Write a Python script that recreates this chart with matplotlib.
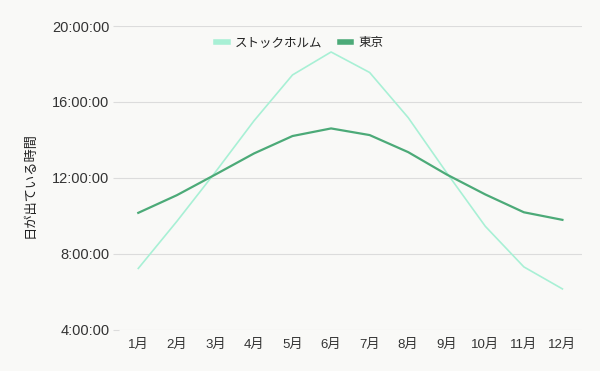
import matplotlib
matplotlib.use("Agg")
import matplotlib.pyplot as plt
from matplotlib.ticker import FuncFormatter, FixedLocator

plt.rcParams["font.family"] = ["Liberation Sans", "Noto Sans CJK JP", "DejaVu Sans"]

# データ（時間単位）
meses = ["1月", "2月", "3月", "4月", "5月", "6月", "7月", "8月", "9月", "10月", "11月", "12月"]
estocolmo = [7.22, 9.70, 12.30, 15.00, 17.42, 18.63, 17.55, 15.17, 12.26, 9.44, 7.30, 6.14]
toquio = [10.15, 11.08, 12.17, 13.28, 14.20, 14.60, 14.25, 13.35, 12.17, 11.12, 10.18, 9.78]
ticks_y = [4, 8, 12, 16, 20]

fundo = "#f9f9f7"
fig = plt.figure(figsize=(6, 3.71), dpi=100, facecolor=fundo)
ax = fig.add_axes([119 / 600, 41.5 / 371, 462.7 / 600, 303.5 / 371], facecolor=fundo)

x = list(range(len(meses)))
ax.plot(x, estocolmo, color="#a8f0d5", lw=1.2, label="ストックホルム")
ax.plot(x, toquio, color="#4caa78", lw=1.6, label="東京")

ax.set_xlim(-0.5, len(meses) - 0.5)
ax.set_ylim(4, 20)
ax.yaxis.set_major_locator(FixedLocator(ticks_y))
ax.yaxis.set_major_formatter(FuncFormatter(lambda v, p: f"{int(v)}:00:00"))
ax.set_xticks(x)
ax.set_xticklabels(meses)

ax.grid(axis="y", color="#dcdcdc", lw=0.8)
ax.set_axisbelow(True)
for s in ax.spines.values():
    s.set_visible(False)
ax.tick_params(axis="x", length=0, pad=7, labelsize=9.5, colors="#333333")
ax.tick_params(axis="y", length=4, color="#dcdcdc", pad=3, labelsize=10.5, labelcolor="#333333")

fig.text(30 / 600, 1 - 185 / 371, "日が出ている時間", rotation=90, va="center", ha="center",
         fontsize=9.5, color="#222222")

fig.legend(loc="center", bbox_to_anchor=(0.5, 1 - 43 / 371), ncol=2, frameon=False,
           fontsize=9, handlelength=0.9, handletextpad=0.6, columnspacing=1.4,
           labelcolor="#222222")
for h in fig.legends[0].legend_handles:
    h.set_linewidth(4)

fig.savefig("out.png", dpi=100, facecolor=fundo)
